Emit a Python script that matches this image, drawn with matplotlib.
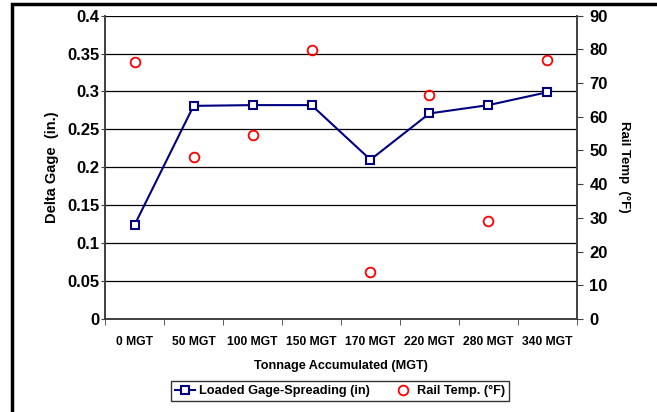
import numpy as np
import matplotlib.pyplot as plt
from matplotlib.patches import Rectangle
from matplotlib.lines import Line2D

plt.rcParams['font.family'] = ['Liberation Sans', 'DejaVu Sans']
plt.rcParams['font.weight'] = 'bold'

categories = ['0 MGT', '50 MGT', '100 MGT', '150 MGT', '170 MGT', '220 MGT', '280 MGT', '340 MGT']
gage_spread = [0.124, 0.281, 0.282, 0.282, 0.210, 0.271, 0.282, 0.299]
rail_temp = [76.2, 48.0, 54.6, 79.9, 13.8, 66.5, 29.1, 76.8]

fig = plt.figure(figsize=(6.57, 4.12), dpi=100)
ax = fig.add_axes([0.160, 0.226, 0.718, 0.736])
ax2 = ax.twinx()

x = np.arange(len(categories))
ax.plot(x, gage_spread, '-s', color='#000080', linewidth=1.5, markersize=6,
        markerfacecolor='white', markeredgewidth=1.5, zorder=3)
ax2.plot(x, rail_temp, 'o', color='red', markersize=7, markerfacecolor='none',
         markeredgewidth=1.3, linestyle='none')

ax.set_xlim(-0.5, len(categories) - 0.5)
ax.set_ylim(0, 0.4)
ax2.set_ylim(0, 90)
ax.set_yticks(np.arange(0, 0.401, 0.05))
ax.set_yticklabels(['0', '0.05', '0.1', '0.15', '0.2', '0.25', '0.3', '0.35', '0.4'])
ax2.set_yticks(np.arange(0, 91, 10))
ax.yaxis.grid(True, color='black', linewidth=0.9)
ax.set_axisbelow(True)

ax.set_xticks(x)
ax.set_xticklabels(categories)
ax.set_xticks(np.arange(-0.5, len(categories)), minor=True)
ax.tick_params(axis='x', which='major', length=0, pad=12, labelsize=8.7)
ax.tick_params(axis='x', which='minor', length=4, direction='out', color='#404040')
ax.tick_params(axis='y', labelsize=12, length=3, color='#404040', pad=1)
ax2.tick_params(axis='y', labelsize=12, length=4, color='#404040', pad=5)

for a in (ax, ax2):
    a.spines['top'].set_visible(False)
    for s in ('left', 'right', 'bottom'):
        a.spines[s].set_color('#404040')
        a.spines[s].set_linewidth(1.2)

ax.set_xlabel('Tonnage Accumulated (MGT)', fontsize=9.1, fontweight='bold', labelpad=9)
ax.set_ylabel('Delta Gage  (in.)', fontsize=10.5, fontweight='bold', labelpad=6)
ax2.set_ylabel('Rail Temp  (\u00b0F)', fontsize=9.5, fontweight='bold', rotation=-90, labelpad=16)

handles = [
    Line2D([], [], color='#000080', marker='s', markerfacecolor='white',
           markeredgewidth=1.5, markersize=6, linewidth=1.5),
    Line2D([], [], color='red', marker='o', markerfacecolor='none',
           markeredgewidth=1.3, markersize=7, linestyle='none'),
]
leg = fig.legend(handles, ['Loaded Gage-Spreading (in)', 'Rail Temp. (\u00b0F)'],
                 loc='center', bbox_to_anchor=(0.518, 0.051), ncol=2, fontsize=9.2,
                 frameon=True, fancybox=False, edgecolor='black', handlelength=1.6,
                 columnspacing=1.8, handletextpad=0.3, borderpad=0.3, borderaxespad=0.2)
leg.get_frame().set_linewidth(1.0)

# outer chart border (cropped on right/bottom)
border = Rectangle((12 / 657, -0.1), 1.5, 1 - 4 / 412 + 0.1, transform=fig.transFigure,
                   fill=False, edgecolor='black', linewidth=2.5)
fig.patches.append(border)

fig.savefig('out.png', dpi=100)
